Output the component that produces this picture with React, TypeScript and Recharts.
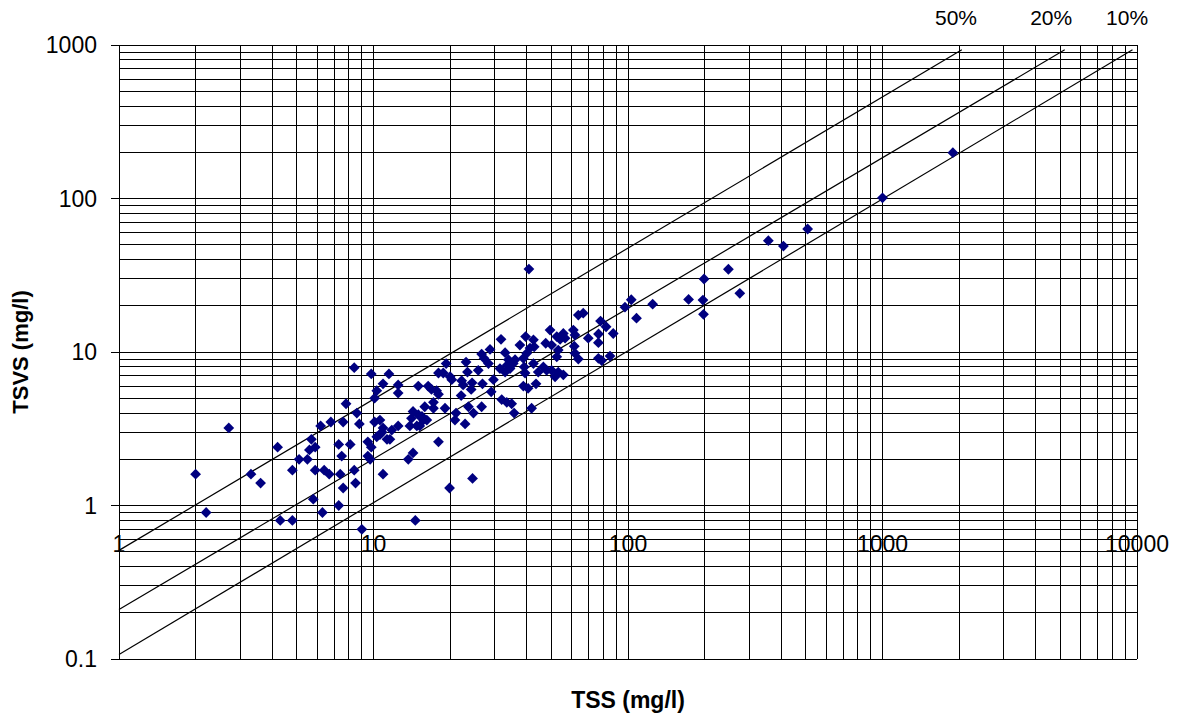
import React from 'react';
import {
  ScatterChart,
  Scatter,
  XAxis,
  YAxis,
  CartesianGrid,
  ReferenceLine,
  ReferenceDot,
} from 'recharts';

// TSS (mg/l) values of the samples
const tssValues = [
  2.0, 2.2, 2.7, 3.3, 3.6, 4.2, 4.3, 4.8, 4.8, 5.1, 5.5, 5.7, 5.6, 5.9, 5.9, 5.8, 6.2, 6.3, 6.4, 6.7,
  6.8, 7.3, 7.3, 7.4, 7.5, 7.6, 7.6, 7.8, 8.1, 8.4, 8.4, 8.5, 8.6, 8.8, 9.0, 9.5, 9.5, 9.7, 9.8, 9.8,
  10.1, 10.1, 10.3, 10.3, 10.6, 10.6, 10.8, 10.9, 10.9, 10.9, 11.3, 11.5, 11.6, 11.8, 12.5, 12.5, 12.5,
  15, 16.4, 16.9, 17.7, 18, 17.2, 15.9, 17.2, 19.1, 14.3, 15, 14.1, 15.5, 15.7, 14.8, 13.9, 16.2, 15.2,
  18, 14.3, 13.7, 19.3, 18, 18.8, 20, 20.3, 21.1, 20.9, 22.1, 22.2, 22.5, 22.9, 23.1, 23.4, 23.6, 24.7,
  24.4, 24.2, 25.8, 26.6, 27.2, 28.3, 28.7, 26.8, 26.6, 29, 29.6, 19.9, 24.5, 14.6,
  31.7, 32.9, 33.9, 31.4, 32.9, 34.4, 35.4, 36, 33.5, 31.9, 33.4, 34.9, 35.7, 41.8, 37.6, 39.6, 42.5,
  41.2, 42.8, 40, 38.8, 39.4, 39.1, 42.5, 44.4, 46.5, 47.9, 38.8, 40.5, 43.5, 40.8, 47.5, 50.1, 49.4,
  52.5, 54.1, 53.2, 52.5, 55.7, 56.6, 50.1, 53.2, 51.7, 55.7, 61, 61.9, 61.5, 61.9, 63.8, 63.8, 66.7,
  69.8, 76.6, 76.5, 78, 82, 87.5, 76.5, 78.8, 85, 97.3, 103, 108, 125, 173, 197, 198, 199, 248, 275,
  356, 408, 508, 1000, 1890,
];

// TSVS (mg/l) values of the same samples
const tsvsValues = [
  1.6, 0.9, 3.2, 1.6, 1.4, 2.4, 0.8, 0.8, 1.7, 2.0, 2.0, 2.7, 2.3, 2.4, 1.7, 1.1, 3.3, 0.9, 1.7, 1.6,
  3.5, 2.5, 1.0, 1.6, 2.1, 3.5, 1.3, 4.6, 2.5, 7.9, 1.7, 1.4, 4.0, 3.4, 0.7, 2.6, 2.1, 2.0, 7.2, 2.4,
  3.5, 5.0, 5.6, 2.8, 3.6, 2.9, 3.0, 1.6, 6.2, 3.2, 2.7, 7.2, 2.7, 3.1, 6.1, 5.4, 3.3,
  6.0, 6.0, 5.7, 5.6, 5.3, 4.7, 4.4, 4.3, 4.3, 4.1, 3.9, 3.7, 3.8, 3.6, 3.3, 3.3, 3.6, 3.3,
  2.6, 2.2, 2.0, 8.4, 7.3, 7.3, 6.9, 6.6, 4.0, 3.6, 5.2, 6.5, 6.1, 3.4, 8.6, 7.4, 4.4, 4.0,
  6.3, 5.7, 7.6, 9.7, 9.1, 8.4, 10.4, 6.2, 4.4, 5.5, 6.6, 1.3, 1.5, 0.8,
  12.1, 9.9, 8.9, 7.8, 7.4, 7.8, 8.4, 8.9, 8.2, 4.9, 4.7, 4.6, 4.0, 4.3, 11.1, 12.6, 12.0,
  10.6, 10.8, 9.8, 9.1, 7.3, 8.0, 8.4, 7.4, 8.0, 7.6, 6.0, 5.8, 6.2, 34.7, 11.4, 11.1, 13.9,
  12.6, 12.1, 10.3, 9.3, 13.2, 12.3, 7.6, 7.4, 6.9, 7.1, 13.9, 12.9, 10.9, 9.8, 9.0, 17.4, 17.9,
  12.3, 13.1, 11.5, 15.9, 14.6, 13.2, 9.1, 8.8, 9.4, 19.6, 21.9, 16.6, 20.5, 22, 21.8, 17.6, 29.9, 34.6, 24.1,
  53.1, 49, 63.3, 101, 199,
];

// gridline positions (log axes, every 1..9 of each decade)
const xTicks = [
  1, 2, 3, 4, 5, 6, 7, 8, 9,
  10, 20, 30, 40, 50, 60, 70, 80, 90,
  100, 200, 300, 400, 500, 600, 700, 800, 900,
  1000, 2000, 3000, 4000, 5000, 6000, 7000, 8000, 9000,
  10000,
];
const yTicks = [
  0.1, 0.2, 0.3, 0.4, 0.5, 0.6, 0.7, 0.8, 0.9,
  1, 2, 3, 4, 5, 6, 7, 8, 9,
  10, 20, 30, 40, 50, 60, 70, 80, 90,
  100, 200, 300, 400, 500, 600, 700, 800, 900,
  1000,
];
// labelled ticks
const xLabelTicks = [1, 10, 100, 1000, 10000];
const yLabelTicks = [0.1, 1, 10, 100, 1000];

// ratio lines TSVS/TSS = 50%, 20%, 10% (as drawn on the original)
const ratioNames = ['50%', '20%', '10%'];
const ratioStartY = [0.51, 0.21, 0.107];
const ratioEndX = [2050, 5200, 9600];
const ratioEndY = [930, 930, 930];
const ratioLabelX = [1945, 4600, 9140];

const points = tssValues.map((x, i) => ({ x, y: tsvsValues[i] }));

const FONT = '"Liberation Sans", Arial, Helvetica, sans-serif';

const Diamond = (props: any) => {
  const { cx, cy } = props;
  if (cx == null || cy == null) return null;
  const r = 5.4;
  return (
    <polygon
      points={`${cx},${cy - r} ${cx + r},${cy} ${cx},${cy + r} ${cx - r},${cy}`}
      fill="#000080"
      stroke="none"
    />
  );
};

const EmptyTick = () => <g />;

const YTick = (props: any) => {
  const { x, y, payload } = props;
  if (!yLabelTicks.includes(payload.value)) return <g />;
  return (
    <g>
      <line x1={x + 14} x2={x + 22} y1={y} y2={y} stroke="#000" strokeWidth={1} shapeRendering="crispEdges" />
      <text
        x={x}
        y={y}
        dy="0.36em"
        textAnchor="end"
        fontSize={23}
        fontFamily={FONT}
        fill="#000"
      >
        {String(payload.value)}
      </text>
    </g>
  );
};

const YTitle = (props: any) => {
  const vb = props.viewBox || {};
  const cx = vb.x - 39;
  const cy = vb.y + vb.height / 2;
  return (
    <text
      x={cx}
      y={cy}
      transform={`rotate(-90 ${cx} ${cy})`}
      textAnchor="middle"
      dy="0.36em"
      fontSize={22}
      fontWeight="bold"
      fontFamily={FONT}
      fill="#000"
    >
      TSVS (mg/l)
    </text>
  );
};

export default function App() {
  return (
    <div style={{ width: 1180, height: 723, background: '#fff' }}>
      <style>{'body{margin:0;background:#fff}'}</style>
      <ScatterChart
        width={1180}
        height={723}
        margin={{ top: 45, right: 43, bottom: 34, left: 59 }}
      >
        <CartesianGrid stroke="#000" strokeWidth={1} fill="none" shapeRendering="crispEdges" />
        <XAxis
          type="number"
          dataKey="x"
          scale="log"
          domain={[1, 10000]}
          ticks={xTicks}
          interval={0}
          tick={<EmptyTick />}
          tickLine={false}
          axisLine={false}
          height={30}
          allowDataOverflow
          label={{
            value: 'TSS (mg/l)',
            position: 'bottom',
            offset: 3,
            fontSize: 23,
            fontWeight: 'bold',
            fontFamily: FONT,
            fill: '#000',
          }}
        />
        <YAxis
          type="number"
          dataKey="y"
          scale="log"
          domain={[0.1, 1000]}
          ticks={yTicks}
          interval={0}
          width={60}
          tickSize={8}
          tickMargin={14}
          tickLine={false}
          axisLine={{ stroke: '#000', shapeRendering: 'crispEdges' }}
          tick={<YTick />}
          allowDataOverflow
          label={<YTitle />}
        />
        {ratioNames.map((n, i) => (
          <ReferenceLine
            key={'line' + n}
            segment={[
              { x: 1, y: ratioStartY[i] },
              { x: ratioEndX[i], y: ratioEndY[i] },
            ]}
            stroke="#000"
            strokeWidth={1.2}
            ifOverflow="visible"
          />
        ))}
        <Scatter data={points} shape={Diamond} isAnimationActive={false} />
        {xLabelTicks.map((v) => (
          <ReferenceDot
            key={'xl' + v}
            x={v}
            y={1}
            r={0}
            fill="none"
            stroke="none"
            ifOverflow="visible"
            label={{
              value: String(v),
              position: 'bottom',
              offset: 30,
              fontSize: 23,
              fontFamily: FONT,
              fill: '#000',
            }}
          />
        ))}
        {ratioNames.map((n, i) => (
          <ReferenceDot
            key={'rl' + n}
            x={ratioLabelX[i]}
            y={1000}
            r={0}
            fill="none"
            stroke="none"
            ifOverflow="visible"
            label={{
              value: n,
              position: 'top',
              offset: 20,
              fontSize: 21,
              fontFamily: FONT,
              fill: '#000',
            }}
          />
        ))}
      </ScatterChart>
    </div>
  );
}
